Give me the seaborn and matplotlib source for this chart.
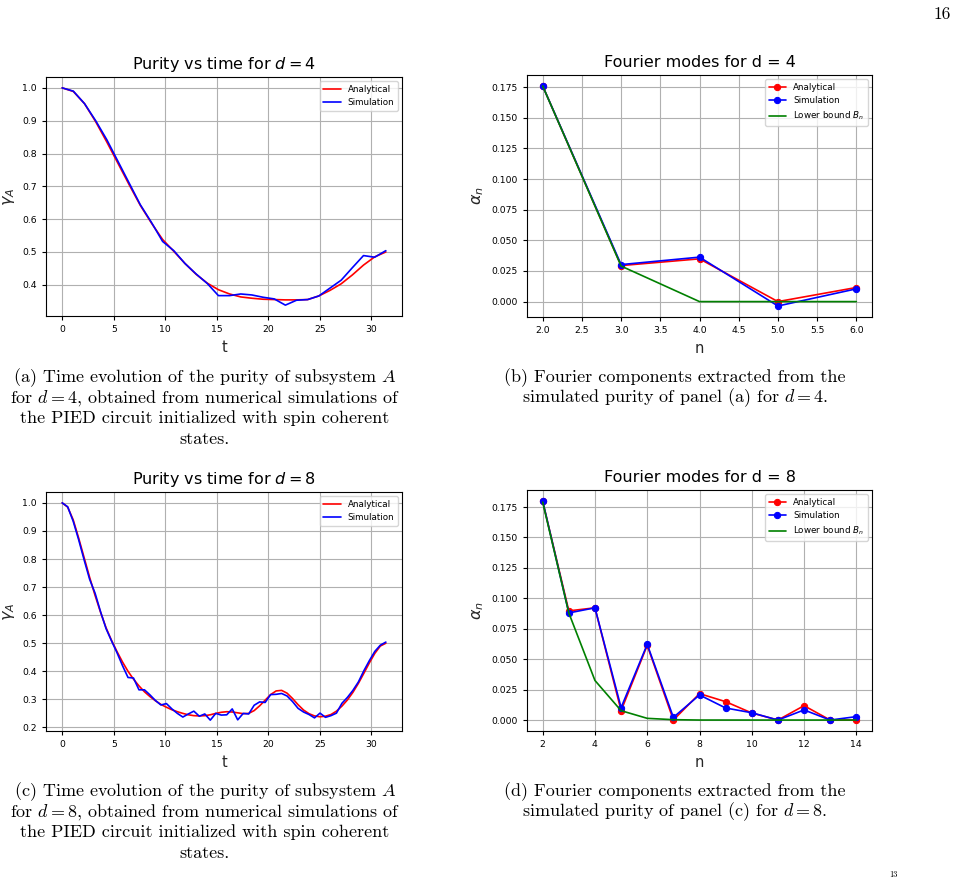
import numpy as np
import seaborn as sns
import matplotlib
matplotlib.use("Agg")
import matplotlib.pyplot as plt

# time grids of the two purity runs
t_d4 = np.linspace(0, 10 * np.pi, 30)
t_d8 = np.linspace(0, 10 * np.pi, 60)

purity_d4_analytical = [1.0, 0.989, 0.952, 0.897, 0.835, 0.770, 0.705, 0.642, 0.588, 0.538,
                        0.502, 0.465, 0.432, 0.405, 0.385, 0.372, 0.363, 0.359, 0.356, 0.355,
                        0.354, 0.354, 0.355, 0.366, 0.383, 0.403, 0.430, 0.460, 0.485, 0.500]
purity_d4_simulation = [1.0, 0.990, 0.952, 0.900, 0.842, 0.776, 0.710, 0.644, 0.590, 0.532,
                        0.504, 0.465, 0.433, 0.404, 0.367, 0.367, 0.372, 0.369, 0.362, 0.357,
                        0.338, 0.353, 0.355, 0.366, 0.390, 0.414, 0.452, 0.489, 0.484, 0.504]

purity_d8_analytical = [1.0, 0.985, 0.940, 0.875, 0.805, 0.735, 0.670, 0.610, 0.555, 0.510,
                        0.470, 0.433, 0.400, 0.372, 0.348, 0.327, 0.310, 0.295, 0.282, 0.272,
                        0.263, 0.256, 0.250, 0.245, 0.242, 0.241, 0.242, 0.245, 0.250, 0.254,
                        0.256, 0.255, 0.252, 0.249, 0.250, 0.260, 0.277, 0.297, 0.317, 0.330,
                        0.332, 0.322, 0.303, 0.281, 0.262, 0.249, 0.241, 0.238, 0.240, 0.246,
                        0.258, 0.276, 0.298, 0.325, 0.357, 0.393, 0.430, 0.464, 0.490, 0.500]
purity_d8_simulation = [1.0, 0.986, 0.935, 0.869, 0.797, 0.728, 0.678, 0.612, 0.552, 0.508,
                        0.466, 0.420, 0.378, 0.376, 0.334, 0.334, 0.316, 0.296, 0.280, 0.285,
                        0.266, 0.250, 0.237, 0.248, 0.258, 0.240, 0.248, 0.226, 0.250, 0.244,
                        0.245, 0.266, 0.227, 0.250, 0.248, 0.279, 0.291, 0.289, 0.317, 0.318,
                        0.321, 0.312, 0.292, 0.268, 0.255, 0.246, 0.234, 0.251, 0.236, 0.242,
                        0.251, 0.286, 0.307, 0.332, 0.362, 0.402, 0.438, 0.471, 0.493, 0.504]

# Fourier modes
n_d4 = [2, 3, 4, 5, 6]
alpha_d4_analytical = [0.176, 0.0294, 0.0349, 0.0, 0.0115]
alpha_d4_simulation = [0.176, 0.0302, 0.0363, -0.0036, 0.0104]
bound_d4 = [0.176, 0.029, 0.0, 0.0, 0.0]

n_d8 = [2, 3, 4, 5, 6, 7, 8, 9, 10, 11, 12, 13, 14]
alpha_d8_analytical = [0.1797, 0.0897, 0.0922, 0.0077, 0.0614, 0.0, 0.0217, 0.0151, 0.0058,
                       0.0, 0.0118, 0.0, 0.0]
alpha_d8_simulation = [0.180, 0.088, 0.0922, 0.0102, 0.0622, 0.0022, 0.0206, 0.0099, 0.0060,
                       0.0, 0.0083, 0.0, 0.0028]
bound_d8 = [0.179, 0.088, 0.0325, 0.0077, 0.0014, 0.0003, 0.0, 0.0, 0.0, 0.0, 0.0, 0.0, 0.0]

# caption lines, one entry per printed line
caption_a = ["(a) Time evolution of the purity of subsystem $A$",
             "for $d = 4$, obtained from numerical simulations of",
             "the PIED circuit initialized with spin coherent",
             "states."]
caption_b = ["(b) Fourier components extracted from the",
             "simulated purity of panel (a) for $d = 4$."]
caption_c = ["(c) Time evolution of the purity of subsystem $A$",
             "for $d = 8$, obtained from numerical simulations of",
             "the PIED circuit initialized with spin coherent",
             "states."]
caption_d = ["(d) Fourier components extracted from the",
             "simulated purity of panel (c) for $d = 8$."]

sns.set_style("ticks", {"axes.grid": True, "grid.color": "#b0b0b0",
                        "axes.edgecolor": "black", "text.color": "black",
                        "xtick.color": "black", "ytick.color": "black"})
plt.rcParams["font.family"] = ["DejaVu Sans"]
plt.rcParams["grid.linewidth"] = 0.8
plt.rcParams["axes.linewidth"] = 0.8

W, H = 957, 881
fig = plt.figure(figsize=(W / 100, H / 100), dpi=100)


def px_axes(x0, y0, x1, y1):
    return fig.add_axes([x0 / W, 1 - y1 / H, (x1 - x0) / W, (y1 - y0) / H])


ax_a = px_axes(46, 77, 402, 316)
ax_b = px_axes(527, 75, 872, 317)
ax_c = px_axes(46, 492, 402, 731)
ax_d = px_axes(527, 490, 872, 731)

TICK = 6.7
LEG = 6.3
LAB = 10.5
TTL = 11.5


def purity_panel(ax, t, ana, sim, d):
    sns.lineplot(x=t, y=ana, ax=ax, color="red", lw=1.2, label="Analytical")
    sns.lineplot(x=t, y=sim, ax=ax, color="blue", lw=1.2, label="Simulation")
    ax.set_title(f"Purity vs time for $d = {d}$", fontsize=TTL)
    ax.set_xlabel("t", fontsize=LAB)
    ax.set_ylabel(r"$\gamma_A$", fontsize=11.5)
    ax.set_xticks([0, 5, 10, 15, 20, 25, 30])
    ax.tick_params(labelsize=TICK, length=3, width=0.8)
    ax.legend(loc="upper right", fontsize=LEG)
    ax.grid(True)


def fourier_panel(ax, n, ana, sim, bound, d):
    mk = dict(marker="o", markersize=4.5)
    sns.lineplot(x=n, y=ana, ax=ax, color="red", lw=1.2, label="Analytical",
                 markeredgecolor="red", **mk)
    sns.lineplot(x=n, y=sim, ax=ax, color="blue", lw=1.2, label="Simulation",
                 markeredgecolor="blue", **mk)
    sns.lineplot(x=n, y=bound, ax=ax, color="green", lw=1.2, label=r"Lower bound $B_n$")
    ax.set_title(f"Fourier modes for d = {d}", fontsize=TTL)
    ax.set_xlabel("n", fontsize=LAB)
    ax.set_ylabel(r"$\alpha_n$", fontsize=11.5)
    ax.set_yticks([0.0, 0.025, 0.05, 0.075, 0.1, 0.125, 0.15, 0.175])
    ax.yaxis.set_major_formatter(matplotlib.ticker.FormatStrFormatter("%.3f"))
    ax.tick_params(labelsize=TICK, length=3, width=0.8)
    ax.legend(loc="upper right", fontsize=LEG)
    ax.grid(True)


purity_panel(ax_a, t_d4, purity_d4_analytical, purity_d4_simulation, 4)
purity_panel(ax_c, t_d8, purity_d8_analytical, purity_d8_simulation, 8)
fourier_panel(ax_b, n_d4, alpha_d4_analytical, alpha_d4_simulation, bound_d4, 4)
ax_b.set_xticks([2.0, 2.5, 3.0, 3.5, 4.0, 4.5, 5.0, 5.5, 6.0])
ax_b.xaxis.set_major_formatter(matplotlib.ticker.FormatStrFormatter("%.1f"))
fourier_panel(ax_d, n_d8, alpha_d8_analytical, alpha_d8_simulation, bound_d8, 8)
ax_d.set_xticks([2, 4, 6, 8, 10, 12, 14])


def caption(lines, xc, y0):
    for i, line in enumerate(lines):
        fig.text(xc / W, 1 - (y0 + 20.5 * i) / H, line, ha="center", va="baseline",
                 fontsize=13, family="cmr10", math_fontfamily="cm")


caption(caption_a, 205, 382)
caption(caption_b, 675, 382)
caption(caption_c, 205, 796)
caption(caption_d, 675, 796)
fig.text(942 / W, 1 - 14 / H, "16", ha="center", va="center", fontsize=12.5, family="cmr10")
fig.text(893 / W, 1 - 875 / H, "13", ha="center", va="center", fontsize=6, family="cmr10")

fig.savefig("out.png", dpi=100)
